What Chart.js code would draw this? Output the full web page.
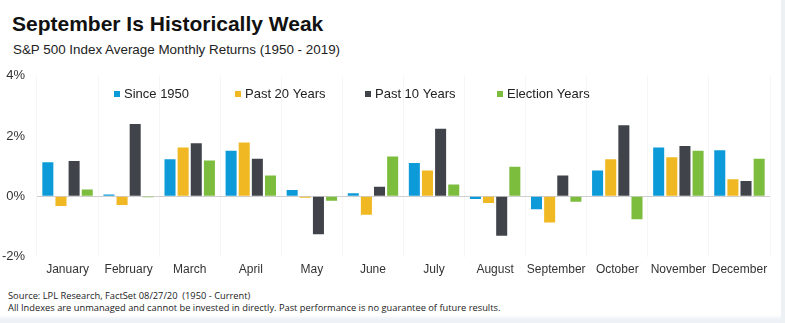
<!DOCTYPE html>
<html>
<head>
<meta charset="utf-8">
<script src="https://cdn.jsdelivr.net/npm/chart.js@4/dist/chart.umd.min.js"></script>
<style>
  html, body { margin: 0; padding: 0; background: #fff; }
  body { width: 785px; height: 323px; position: relative; overflow: hidden; font-family: Arial, "Liberation Sans", sans-serif; }
  #title { position: absolute; left: 12px; top: 12px; font-size: 21px; font-weight: bold; color: #111; }
  #subtitle { position: absolute; left: 13px; top: 42px; font-size: 13.4px; color: #222; }
  #wrap { position: absolute; left: 0; top: 56px; width: 780px; height: 227px; }
  #foot { position: absolute; left: 0; top: 290px; width: 781px; height: 33px; background: linear-gradient(#fff 0, #fff 25px, #eef2f6 29px); color: #222; font-family: "Open Sans", sans-serif; font-size: 9.3px; line-height: 11.5px; padding-left: 8px; box-sizing: border-box; }
  #edge { position: absolute; left: 781px; top: 0; width: 4px; height: 323px; background: #eef1f4; }
</style>
</head>
<body>
<div id="title">September Is Historically Weak</div>
<div id="subtitle">S&amp;P 500 Index Average Monthly Returns (1950 - 2019)</div>
<div id="wrap"><canvas id="chart"></canvas></div>
<div id="foot">Source: LPL Research, FactSet 08/27/20 &nbsp;(1950 - Current)<br>All Indexes are unmanaged and cannot be invested in directly. Past performance is no guarantee of future results.</div>
<div id="edge"></div>
<script>
'use strict';

const months = ['January', 'February', 'March', 'April', 'May', 'June', 'July', 'August', 'September', 'October', 'November', 'December'];
const seriesNames = ['Since 1950', 'Past 20 Years', 'Past 10 Years', 'Election Years'];
const seriesColors = ['#0d9ad9', '#f0b822', '#40444a', '#7dbd3e'];

// average monthly returns, %
const since1950 = [1.13, 0.06, 1.23, 1.51, 0.21, 0.10, 1.11, -0.09, -0.43, 0.86, 1.62, 1.53];
const past20 = [-0.32, -0.29, 1.62, 1.79, -0.05, -0.61, 0.86, -0.22, -0.87, 1.23, 1.30, 0.57];
const past10 = [1.17, 2.40, 1.76, 1.25, -1.26, 0.32, 2.24, -1.31, 0.69, 2.36, 1.67, 0.51];
const election = [0.23, -0.03, 1.19, 0.69, -0.15, 1.32, 0.39, 0.98, -0.18, -0.76, 1.51, 1.25];

const yTicks = [-2, 0, 2, 4];

const allValues = [since1950, past20, past10, election];

// legend drawn inside the plot area, like the original
const innerLegend = {
    id: 'innerLegend',
    afterDraw(chart) {
        const ctx = chart.ctx;
        const xs = [114, 235, 365, 497];
        const y = 38;
        ctx.save();
        ctx.font = '13px Arial, "Liberation Sans", sans-serif';
        ctx.textBaseline = 'middle';
        chart.data.datasets.forEach((ds, i) => {
            ctx.fillStyle = ds.backgroundColor;
            ctx.fillRect(xs[i], y - 3, 6, 6);
            ctx.fillStyle = '#222';
            ctx.fillText(ds.label, xs[i] + 10, y);
        });
        ctx.restore();
    }
};

new Chart(document.getElementById('chart'), {
    type: 'bar',
    data: {
        labels: months,
        datasets: seriesNames.map((name, i) => ({
            label: name,
            data: allValues[i],
            backgroundColor: seriesColors[i],
            borderWidth: 0,
            categoryPercentage: 0.86,
            barPercentage: 0.84
        }))
    },
    options: {
        responsive: true,
        maintainAspectRatio: false,
        animation: false,
        layout: { padding: { left: 0, right: 10, top: 6, bottom: 0 } },
        plugins: {
            legend: { display: false },
            tooltip: { enabled: false }
        },
        scales: {
            x: {
                grid: { display: true, color: '#f6f6f6', drawTicks: false },
                border: { display: false },
                ticks: { color: '#333', font: { size: 12, family: 'Arial, "Liberation Sans", sans-serif' }, padding: 6, maxRotation: 0, autoSkip: false }
            },
            y: {
                min: -2,
                max: 4,
                afterBuildTicks: axis => { axis.ticks = yTicks.map(v => ({ value: v })); },
                afterFit: axis => { axis.width = 37; },
                grid: {
                    color: ctx => ctx.tick && ctx.tick.value === 0 ? '#cfcfcf' : 'rgba(0,0,0,0)',
                    drawTicks: false
                },
                border: { display: false },
                ticks: {
                    color: '#333',
                    font: { size: 13, family: 'Arial, "Liberation Sans", sans-serif' },
                    padding: 12,
                    callback: v => v + '%'
                }
            }
        }
    },
    plugins: [innerLegend]
});
</script>
</body>
</html>
